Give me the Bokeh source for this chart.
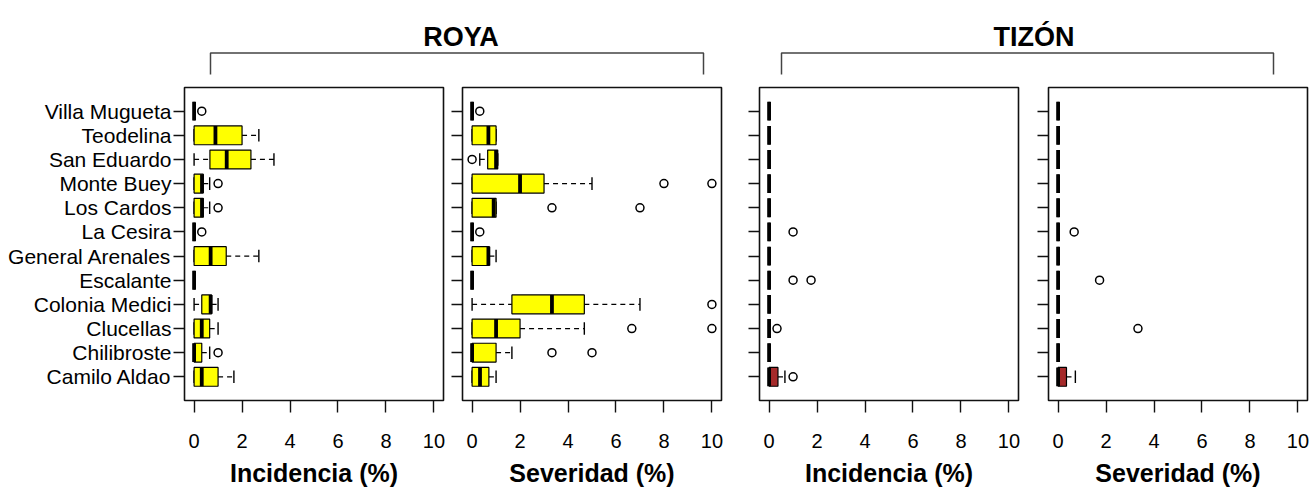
from bokeh.plotting import figure
from bokeh.models import Range1d, FixedTicker, ColumnDataSource
from bokeh.layouts import column, row
from bokeh.embed import file_html
from bokeh.resources import INLINE
from bokeh.core.properties import value

# ---------------- data ----------------
sites = ["Camilo Aldao", "Chilibroste", "Clucellas", "Colonia Medici", "Escalante",
         "General Arenales", "La Cesira", "Los Cardos", "Monte Buey", "San Eduardo",
         "Teodelina", "Villa Mugueta"]
x_ticks = [0, 2, 4, 6, 8, 10]

# ROYA - Incidencia (%)
ri_q1 = [0, 0, 0, 0.32, 0, 0, 0, 0, 0, 0.66, 0, 0]
ri_med = [0.32, 0, 0.32, 0.69, 0, 0.69, 0, 0.33, 0.33, 1.36, 0.89, 0]
ri_q3 = [1.0, 0.32, 0.65, 0.73, 0, 1.34, 0, 0.38, 0.38, 2.37, 2.0, 0]
ri_lo = [0, 0, 0, 0, 0, 0, 0, 0, 0, 0, 0, 0]
ri_hi = [1.66, 0.65, 1.0, 1.0, 0, 2.7, 0, 0.65, 0.65, 3.33, 2.7, 0]
ri_out_site = ["Villa Mugueta", "Monte Buey", "Los Cardos", "La Cesira", "Chilibroste"]
ri_out_val = [0.32, 1.0, 1.0, 0.32, 1.0]

# ROYA - Severidad (%)
rs_q1 = [0, 0, 0, 1.66, 0, 0, 0, 0, 0, 0.65, 0, 0]
rs_med = [0.33, 0, 1.0, 3.33, 0, 0.68, 0, 0.9, 2.0, 1.0, 0.68, 0]
rs_q3 = [0.7, 1.0, 2.0, 4.68, 0, 0.72, 0, 1.0, 3.0, 1.07, 1.0, 0]
rs_lo = [0, 0, 0, 0, 0, 0, 0, 0, 0, 0.32, 0, 0]
rs_hi = [1.0, 1.66, 4.68, 7.0, 0, 1.0, 0, 1.0, 5.0, 1.07, 1.0, 0]
rs_out_site = ["Villa Mugueta", "San Eduardo", "Monte Buey", "Monte Buey", "Los Cardos",
               "Los Cardos", "La Cesira", "Colonia Medici", "Clucellas", "Clucellas",
               "Chilibroste", "Chilibroste"]
rs_out_val = [0.32, 0.0, 8.0, 10.0, 3.33, 7.0, 0.32, 10.0, 6.66, 10.0, 3.33, 5.0]

# TIZON - Incidencia (%)
ti_q1 = [0, 0, 0, 0, 0, 0, 0, 0, 0, 0, 0, 0]
ti_med = [0, 0, 0, 0, 0, 0, 0, 0, 0, 0, 0, 0]
ti_q3 = [0.37, 0, 0, 0, 0, 0, 0, 0, 0, 0, 0, 0]
ti_lo = [0, 0, 0, 0, 0, 0, 0, 0, 0, 0, 0, 0]
ti_hi = [0.66, 0, 0, 0, 0, 0, 0, 0, 0, 0, 0, 0]
ti_out_site = ["La Cesira", "Escalante", "Escalante", "Clucellas", "Camilo Aldao"]
ti_out_val = [1.0, 1.0, 1.75, 0.33, 1.0]

# TIZON - Severidad (%)
ts_q1 = [0, 0, 0, 0, 0, 0, 0, 0, 0, 0, 0, 0]
ts_med = [0, 0, 0, 0, 0, 0, 0, 0, 0, 0, 0, 0]
ts_q3 = [0.35, 0, 0, 0, 0, 0, 0, 0, 0, 0, 0, 0]
ts_lo = [0, 0, 0, 0, 0, 0, 0, 0, 0, 0, 0, 0]
ts_hi = [0.72, 0, 0, 0, 0, 0, 0, 0, 0, 0, 0, 0]
ts_out_site = ["La Cesira", "Escalante", "Clucellas"]
ts_out_val = [0.67, 1.73, 3.33]

# ---------------- style / layout ----------------
FONT = "Liberation Sans"
YELLOW = "#FFFF00"
BROWN = "#A52A2A"
BOXH = 0.78
STAPLE = 0.26
TOP_H = 83
PANEL_H = 409
FRAME_W = 259


def make_panel(stats, out_site, out_val, color, xlabel, bl, br, show_labels):
    q1, med, q3, lo, hi = stats
    p = figure(width=bl + FRAME_W + br, height=PANEL_H,
               x_range=Range1d(-0.4, 10.4), y_range=Range1d(0.02, 12.98),
               output_backend="svg", toolbar_location=None,
               min_border_left=bl, min_border_right=br,
               min_border_top=4, min_border_bottom=92)
    p.grid.visible = False
    p.outline_line_color = "#111111"
    p.outline_line_width = 1.6
    p.background_fill_color = "white"
    p.border_fill_color = "white"

    ys = list(range(1, len(sites) + 1))
    src = ColumnDataSource(dict(
        y=ys, q1=q1, med=med, q3=q3, lo=lo, hi=hi,
        yb=[y - BOXH / 2 for y in ys], yt=[y + BOXH / 2 for y in ys],
        sb=[y - STAPLE for y in ys], st=[y + STAPLE for y in ys]))

    # whiskers
    p.segment(x0="lo", x1="q1", y0="y", y1="y", source=src,
              line_color="black", line_width=1.2, line_dash="5 4")
    p.segment(x0="q3", x1="hi", y0="y", y1="y", source=src,
              line_color="black", line_width=1.2, line_dash="5 4")
    # staples
    p.segment(x0="lo", x1="lo", y0="sb", y1="st", source=src,
              line_color="black", line_width=1.4)
    p.segment(x0="hi", x1="hi", y0="sb", y1="st", source=src,
              line_color="black", line_width=1.4)
    # boxes
    p.quad(left="q1", right="q3", bottom="yb", top="yt", source=src,
           fill_color=color, line_color="black", line_width=1.2)
    # medians
    p.segment(x0="med", x1="med", y0="yb", y1="yt", source=src,
              line_color="black", line_width=3.8)
    # outliers
    oy = [sites.index(s) + 1 for s in out_site]
    p.scatter(x=out_val, y=oy, marker="circle", size=8,
              fill_color=None, line_color="black", line_width=1.5)

    # x axis
    xa = p.xaxis[0]
    xa.ticker = FixedTicker(ticks=x_ticks, minor_ticks=[])
    xa.axis_line_color = None
    xa.major_tick_out = 12
    xa.major_tick_in = 0
    xa.major_tick_line_width = 1.4
    xa.major_tick_line_color = "#111111"
    xa.major_label_text_font = FONT
    xa.major_label_text_font_size = "20px"
    xa.major_label_text_color = "black"
    xa.major_label_standoff = 21
    xa.axis_label = xlabel
    xa.axis_label_text_font = FONT
    xa.axis_label_text_font_size = "25px"
    xa.axis_label_text_font_style = "bold"
    xa.axis_label_text_color = "black"
    xa.axis_label_standoff = 8

    # y axis
    ya = p.yaxis[0]
    ya.ticker = FixedTicker(ticks=ys, minor_ticks=[])
    ya.axis_line_color = None
    ya.major_tick_out = 11
    ya.major_tick_in = 0
    ya.major_tick_line_width = 1.4
    ya.major_tick_line_color = "#111111"
    if show_labels:
        ya.major_label_overrides = {y: s for y, s in zip(ys, sites)}
        ya.major_label_text_font = FONT
        ya.major_label_text_font_size = "21px"
        ya.major_label_text_color = "black"
        ya.major_label_standoff = 2
    else:
        ya.major_label_overrides = {y: "" for y in ys}
        ya.major_label_text_font_size = "1px"
        ya.major_label_standoff = 0
    return p


p1 = make_panel((ri_q1, ri_med, ri_q3, ri_lo, ri_hi), ri_out_site, ri_out_val,
                YELLOW, "Incidencia (%)", 184, 5, True)
p2 = make_panel((rs_q1, rs_med, rs_q3, rs_lo, rs_hi), rs_out_site, rs_out_val,
                YELLOW, "Severidad (%)", 14, 19, False)
p3 = make_panel((ti_q1, ti_med, ti_q3, ti_lo, ti_hi), ti_out_site, ti_out_val,
                BROWN, "Incidencia (%)", 19, 15, False)
p4 = make_panel((ts_q1, ts_med, ts_q3, ts_lo, ts_hi), ts_out_site, ts_out_val,
                BROWN, "Severidad (%)", 15, 2, False)

total_w = sum(p.width for p in (p1, p2, p3, p4))

# header with group titles and brackets (pixel coordinates of the header strip)
top = figure(width=total_w, height=TOP_H, x_range=Range1d(0, total_w),
             y_range=Range1d(TOP_H, 0), output_backend="svg",
             toolbar_location=None, x_axis_location=None, y_axis_location=None,
             min_border_left=0, min_border_right=0, min_border_top=0, min_border_bottom=0)
top.grid.visible = False
top.outline_line_color = None
top.border_fill_color = "white"

groups = ["ROYA", "TIZÓN"]
group_x = [460.5, 1033.5]
bracket_l = [210, 781]
bracket_r = [703, 1273]
for g, gx, bl, br in zip(groups, group_x, bracket_l, bracket_r):
    top.text(x=[gx], y=[36.5], text=[g], text_align="center", text_baseline="alphabetic",
             text_font=value(FONT), text_font_size="27px", text_font_style="bold",
             text_color="black")
    top.line(x=[bl, bl, br, br], y=[74, 52.5, 52.5, 74], line_color="#444444",
             line_width=1.5)

layout = column(top, row(p1, p2, p3, p4))
open("out.html", "w").write(file_html(layout, INLINE))
